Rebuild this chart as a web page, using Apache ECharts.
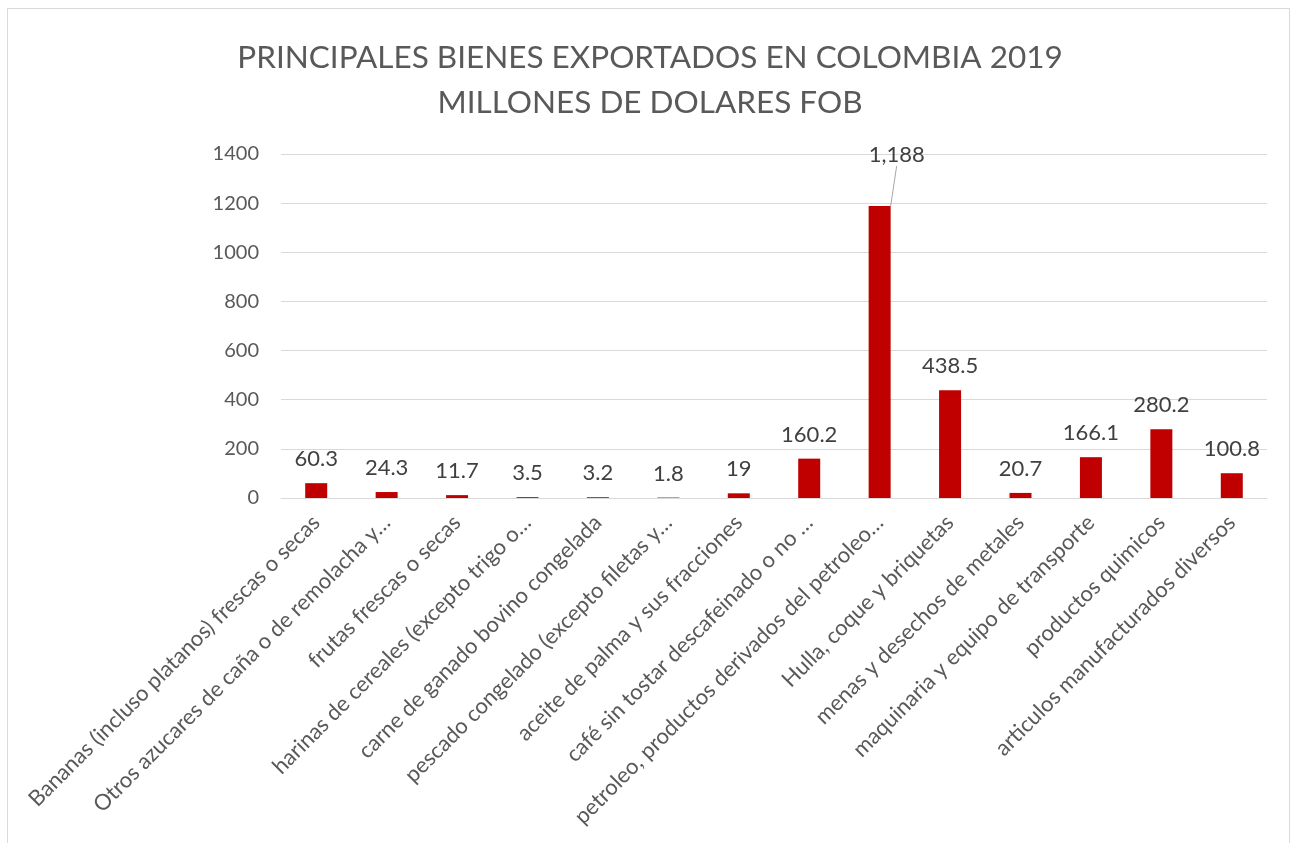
<!DOCTYPE html>
<html>
<head>
<meta charset="utf-8">
<script src="https://cdn.jsdelivr.net/npm/echarts@6/dist/echarts.min.js"></script>
<style>
html,body{margin:0;padding:0;background:#fff;}
#frame{position:absolute;left:7px;top:8px;width:1283px;height:900px;border:1px solid #d9d9d9;box-sizing:border-box;}
#chart{position:absolute;left:0;top:0;width:1300px;height:843px;}
</style>
</head>
<body>
<div id="frame"></div>
<div id="chart"></div>
<script>
const titleLines = ["PRINCIPALES BIENES EXPORTADOS EN COLOMBIA 2019", "MILLONES DE DOLARES FOB"];
const categories = [
  "Bananas (incluso platanos) frescas o secas",
  "Otros azucares de caña o de remolacha y…",
  "frutas frescas o secas",
  "harinas de cereales (excepto trigo o…",
  "carne de ganado bovino congelada",
  "pescado congelado (excepto filetas y…",
  "aceite de palma y sus fracciones",
  "café sin tostar descafeinado o no …",
  "petroleo, productos derivados del petroleo…",
  "Hulla, coque y briquetas",
  "menas y desechos de metales",
  "maquinaria y equipo de transporte",
  "productos quimicos",
  "articulos manufacturados diversos"
];
const values = [60.3, 24.3, 11.7, 3.5, 3.2, 1.8, 19, 160.2, 1188, 438.5, 20.7, 166.1, 280.2, 100.8];
const yTicks = [0, 200, 400, 600, 800, 1000, 1200, 1400];
const calloutIndex = 8;

const chart = echarts.init(document.getElementById('chart'));
const font = 'Lato, "Open Sans", sans-serif';
chart.setOption({
  animation: false,
  textStyle: {fontFamily: font},
  title: {
    text: titleLines.join('\n'),
    left: 'center',
    top: 30,
    textStyle: {fontFamily: font, fontSize: 31.5, fontWeight: 'normal', color: '#595959', lineHeight: 45}
  },
  grid: {left: 281, right: 33, top: 154, bottom: 345, containLabel: false},
  xAxis: {
    type: 'category',
    data: categories,
    axisTick: {show: false},
    axisLine: {lineStyle: {color: '#d9d9d9'}},
    axisLabel: {rotate: 45, interval: 0, fontSize: 22, color: '#595959', margin: 21, fontFamily: font}
  },
  yAxis: {
    type: 'value',
    min: yTicks[0],
    max: yTicks[yTicks.length - 1],
    interval: 200,
    axisLine: {show: false},
    axisTick: {show: false},
    splitLine: {lineStyle: {color: '#d9d9d9', width: 1}},
    axisLabel: {fontSize: 20, color: '#595959', margin: 22, fontFamily: font, formatter: v => String(v)}
  },
  series: [{
    type: 'bar',
    data: values.map((v, i) => i === calloutIndex
      ? {value: v, labelLine: {show: true, lineStyle: {color: '#a6a6a6', width: 1}}}
      : {value: v}),
    barWidth: 22,
    itemStyle: {color: '#c00000'},
    label: {
      show: true,
      position: 'top',
      distance: 13,
      fontSize: 22,
      color: '#404040',
      fontFamily: font,
      formatter: p => p.value.toLocaleString('en-US')
    },
    labelLine: {show: false},
    labelLayout: p => p.dataIndex === calloutIndex ? {dx: 17, dy: -27} : {}
  }]
});
</script>
</body>
</html>
